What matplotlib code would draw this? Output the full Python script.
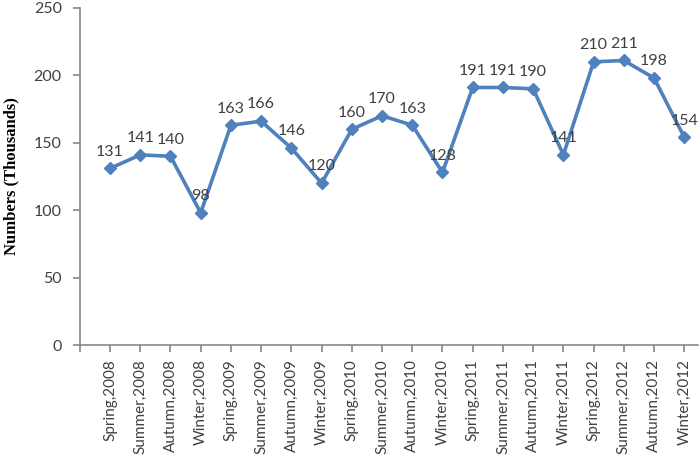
import matplotlib.pyplot as plt

seasons = ['Spring', 'Summer', 'Autumn', 'Winter']
years = [2008, 2009, 2010, 2011, 2012]
labels = ['%s,%d' % (s, y) for y in years for s in seasons]
values = [131, 141, 140, 98, 163, 166, 146, 120, 160, 170,
          163, 128, 191, 191, 190, 141, 210, 211, 198, 154]

tick_font = 'Lato'
txt_color = '#404040'
axis_color = '#868686'
line_color = '#4F81BD'

fig = plt.figure(figsize=(7, 4.65), dpi=100)
ax = fig.add_axes([0.114, 0.258, 0.883, 0.725])

x = list(range(len(values)))
ax.plot(x, values, color=line_color, lw=2.6, marker='D', markersize=6.5,
        markerfacecolor=line_color, markeredgecolor=line_color, zorder=3)

for xi, v in zip(x, values):
    ax.annotate(str(v), (xi, v), xytext=(0, 7), textcoords='offset points',
                ha='center', va='bottom', fontsize=11.5, color=txt_color,
                family=tick_font)

ax.set_ylim(0, 250)
ax.set_xlim(-1, 19.45)
ax.set_yticks([0, 50, 100, 150, 200, 250])
ax.set_xticks(x)
ax.set_xticklabels(labels, rotation=90, fontsize=11, color=txt_color,
                   family=tick_font)
ax.set_xticks([-1], minor=True)
for lab in ax.get_yticklabels():
    lab.set_fontsize(11.5)
    lab.set_color(txt_color)
    lab.set_family(tick_font)

for side in ['top', 'right']:
    ax.spines[side].set_visible(False)
for side in ['left', 'bottom']:
    ax.spines[side].set_color(axis_color)
    ax.spines[side].set_linewidth(1.2)

ax.tick_params(axis='both', which='both', color=axis_color, length=5, width=1.2)
ax.tick_params(axis='y', pad=8)
ax.tick_params(axis='x', pad=5)

ax.set_ylabel('Numbers (Thousands)', family='Liberation Serif', fontweight='bold',
              fontsize=12, color='black')
ax.yaxis.set_label_coords(-0.098, 0.5)

plt.savefig('out.png', dpi=100)
